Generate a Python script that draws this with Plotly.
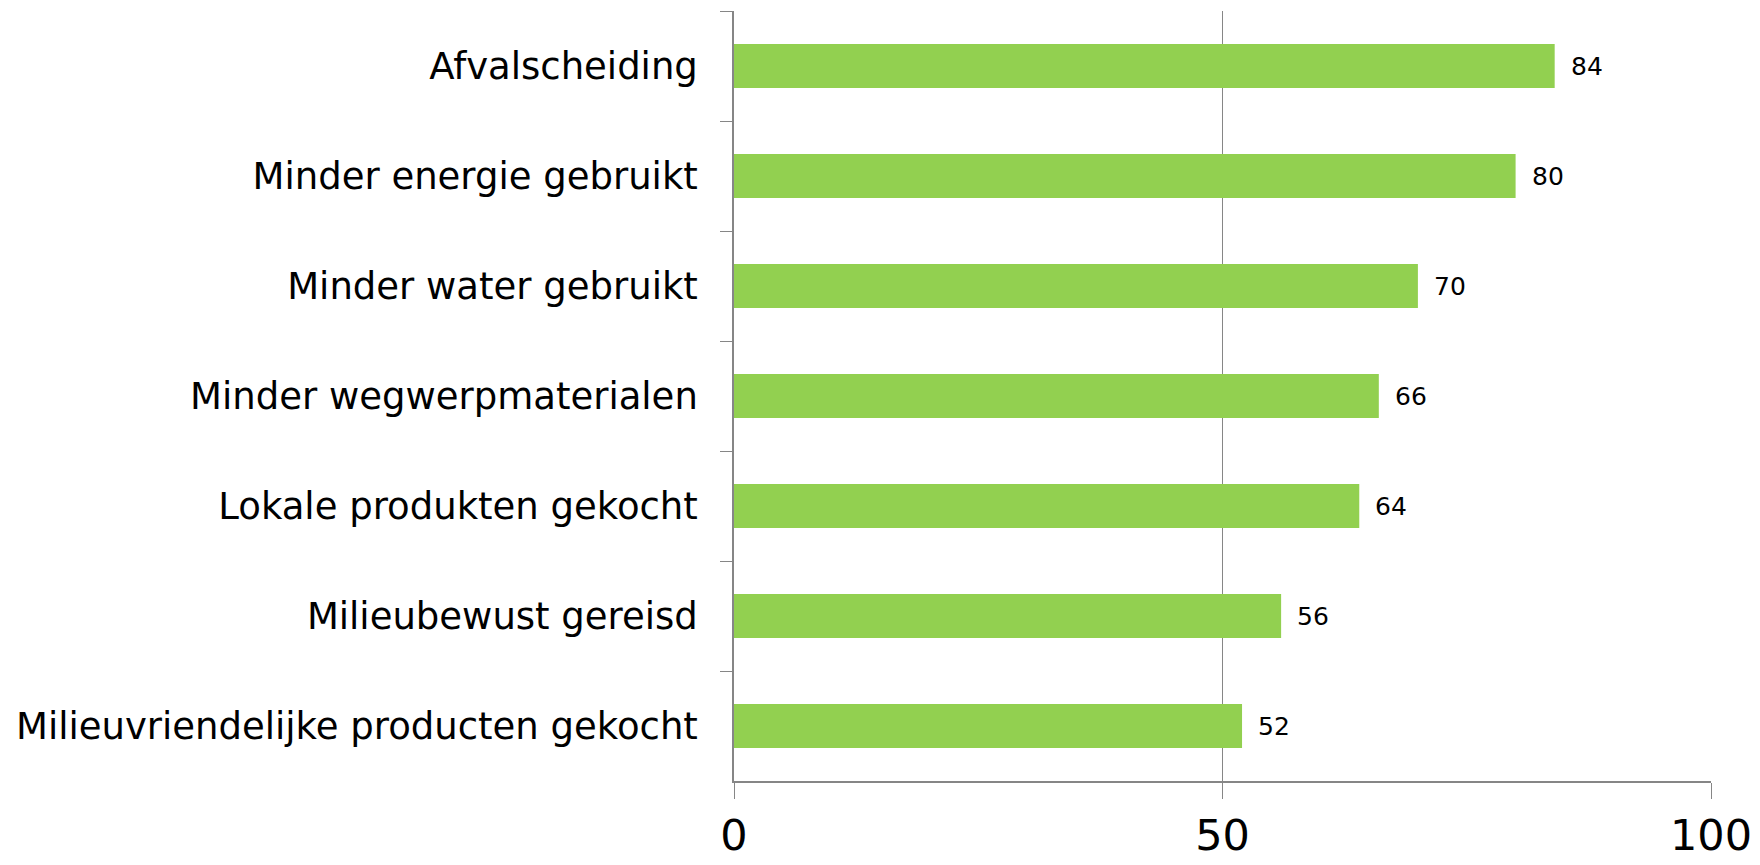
import plotly.graph_objects as go

categories = [
    "Afvalscheiding",
    "Minder energie gebruikt",
    "Minder water gebruikt",
    "Minder wegwerpmaterialen",
    "Lokale produkten gekocht",
    "Milieubewust gereisd",
    "Milieuvriendelijke producten gekocht",
]
values = [84, 80, 70, 66, 64, 56, 52]
x_ticks = [0, 50, 100]

FONT = "DejaVu Sans, Verdana, sans-serif"
GRAY = "#868686"

fig = go.Figure(
    go.Bar(
        x=values,
        y=categories,
        orientation="h",
        width=0.4,
        marker=dict(color="#92D050", line=dict(width=0)),
        hoverinfo="x+y",
    )
)

for c, v in zip(categories, values):
    fig.add_annotation(
        x=v, y=c, text=str(v), showarrow=False, xanchor="left", yanchor="middle",
        xshift=14, font=dict(family=FONT, size=25, color="#000000"),
    )

fig.update_layout(
    width=1760, height=865,
    margin=dict(l=734, r=49, t=11, b=84, autoexpand=False),
    paper_bgcolor="white", plot_bgcolor="white",
    showlegend=False,
    font=dict(family=FONT, color="#000000"),
    bargap=0.6,
)
fig.update_xaxes(
    range=[0, 100], tickvals=x_ticks, ticktext=[str(t) for t in x_ticks],
    showgrid=True, gridcolor=GRAY, gridwidth=1.3,
    showline=True, linecolor=GRAY, linewidth=1.5,
    ticks="outside", ticklen=16, tickcolor=GRAY, tickwidth=1.3,
    tickfont=dict(family=FONT, size=43, color="#000000"),
    ticklabelstandoff=0,
    zeroline=False, fixedrange=True, automargin=False,
)
fig.update_yaxes(
    categoryorder="array", categoryarray=categories, autorange="reversed",
    showline=True, linecolor=GRAY, linewidth=1.5,
    ticks="outside", ticklen=12, tickcolor=GRAY, tickwidth=1.3,
    tickson="boundaries", showgrid=False,
    tickfont=dict(family=FONT, size=37, color="#000000"),
    ticklabelstandoff=27,
    fixedrange=True, automargin=False,
)

fig.write_html(
    "out.html",
    config={"displayModeBar": False},
    post_script="document.body.style.margin='0';document.body.style.overflow='hidden';",
)
